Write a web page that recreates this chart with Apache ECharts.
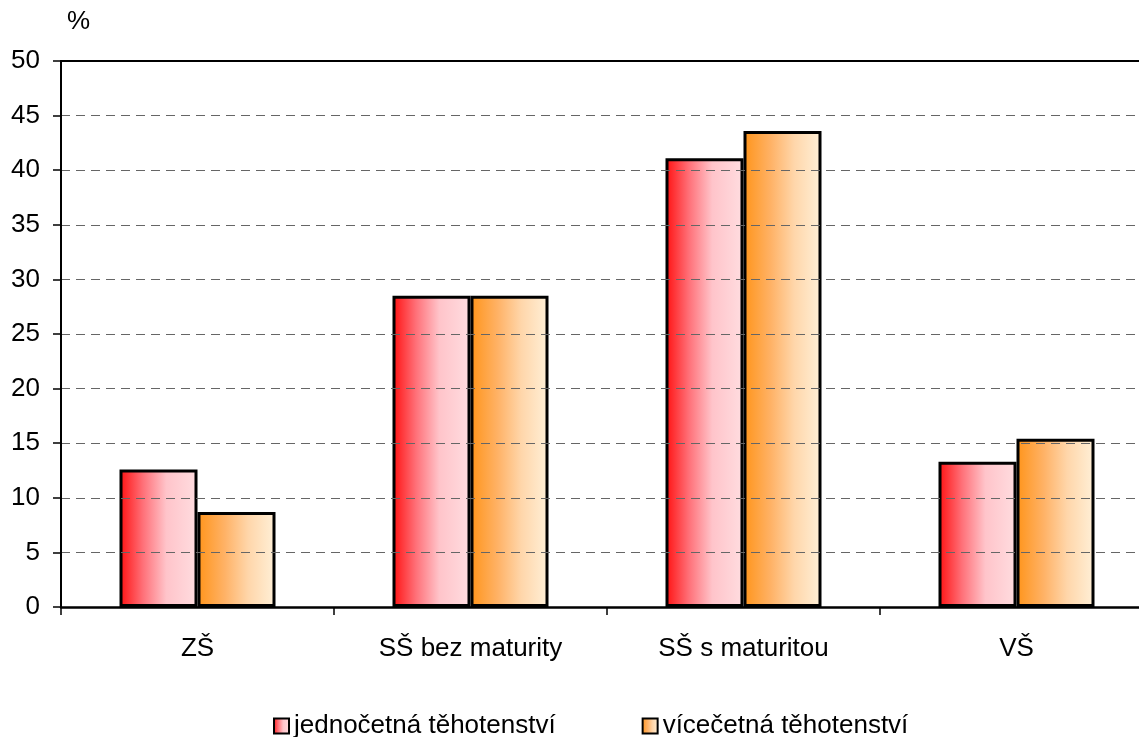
<!DOCTYPE html>
<html>
<head>
<meta charset="utf-8">
<script src="https://cdn.jsdelivr.net/npm/echarts@6/dist/echarts.min.js"></script>
<style>
html,body{margin:0;padding:0;background:#fff;overflow:hidden;width:1139px;height:737px;}
#c{width:1170px;height:737px;}
</style>
</head>
<body>
<div id="c"></div>
<script>
const categories = ['ZŠ', 'SŠ bez maturity', 'SŠ s maturitou', 'VŠ'];
const seriesNames = ['jednočetná těhotenství', 'vícečetná těhotenství'];
const singleValues = [12.6, 28.5, 41.1, 13.3];
const multipleValues = [8.7, 28.5, 43.6, 15.4];
const yTicks = [0, 5, 10, 15, 20, 25, 30, 35, 40, 45, 50];

const FONT = 'Liberation Sans, Arial, sans-serif';
const FS = 26;
const redGrad = new echarts.graphic.LinearGradient(0, 0, 1, 0, [
  {offset: 0, color: '#ff1010'},
  {offset: 0.3, color: '#ff7078'},
  {offset: 0.6, color: '#ffc4ca'},
  {offset: 1, color: '#ffdde0'}
]);
const orangeGrad = new echarts.graphic.LinearGradient(0, 0, 1, 0, [
  {offset: 0, color: '#ff941a'},
  {offset: 0.35, color: '#ffb266'},
  {offset: 0.65, color: '#ffd6aa'},
  {offset: 1, color: '#fff0d8'}
]);

const chart = echarts.init(document.getElementById('c'), null, {renderer: 'canvas'});
chart.setOption({
  animation: false,
  backgroundColor: '#fff',
  textStyle: {fontFamily: FONT},
  graphic: [{
    type: 'text', left: 67, top: 9,
    style: {text: '%', font: FS + 'px ' + FONT, fill: '#000'}
  }],
  legend: {
    left: 268, top: 708,
    itemWidth: 15, itemHeight: 15, itemGap: 86,
    icon: 'rect',
    textStyle: {fontSize: FS, color: '#000', fontFamily: FONT},
    data: seriesNames
  },
  grid: {left: 61, top: 61, width: 1092, height: 546, containLabel: false},
  xAxis: [{
    type: 'category',
    data: categories,
    axisLine: {lineStyle: {color: '#000', width: 2.5}},
    axisTick: {show: true, length: 8, lineStyle: {color: '#000', width: 1.5}},
    axisLabel: {fontSize: FS, color: '#000', margin: 29, fontFamily: FONT},
    z: 5
  }, {
    type: 'category',
    position: 'top',
    data: categories,
    axisLine: {lineStyle: {color: '#000', width: 2}},
    axisTick: {show: false},
    axisLabel: {show: false},
    z: 5
  }],
  yAxis: {
    type: 'value',
    min: 0, max: 50, interval: 5,
    axisLine: {show: true, lineStyle: {color: '#000', width: 2}},
    axisTick: {show: true, length: 8, lineStyle: {color: '#000', width: 1.5}},
    axisLabel: {fontSize: FS, color: '#000', margin: 21, fontFamily: FONT,
      formatter: v => yTicks.includes(v) ? String(v) : ''},
    splitLine: {show: true, lineStyle: {color: '#666', width: 1, type: [9, 6]}},
    z: 5
  },
  series: [{
    name: seriesNames[0],
    type: 'bar',
    data: singleValues,
    barWidth: 78,
    barGap: '0%',
    itemStyle: {color: redGrad, borderColor: '#000', borderWidth: 3}
  }, {
    name: seriesNames[1],
    type: 'bar',
    data: multipleValues,
    barWidth: 78,
    barGap: '0%',
    itemStyle: {color: orangeGrad, borderColor: '#000', borderWidth: 3}
  }]
});
</script>
</body>
</html>
